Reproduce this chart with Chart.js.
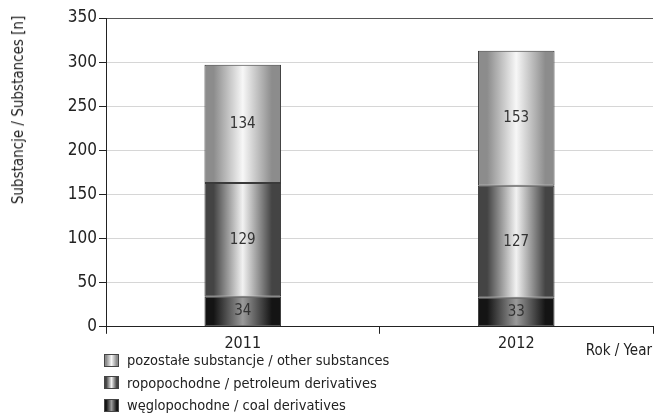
<!DOCTYPE html>
<html>
<head>
<meta charset="utf-8">
<script src="https://cdn.jsdelivr.net/npm/chart.js@4/dist/chart.umd.min.js"></script>
<style>
  html, body { margin: 0; padding: 0; background: #fff; }
  #wrap { position: relative; width: 654px; height: 413px; font-family: "Liberation Sans Narrow", "DejaVu Sans Condensed", sans-serif; color: #222; }
  #chart { position: absolute; left: 0; top: 0; }
  #ytitle { position: absolute; left: 18px; top: 110px; transform: translate(-50%, -50%) rotate(-90deg); white-space: nowrap; font-size: 15px; }
  #xtitle { position: absolute; right: 2px; top: 341px; font-size: 15px; }
  #legend { position: absolute; left: 104px; top: 349px; font-size: 14.5px; }
  #legend div { height: 22.5px; display: flex; align-items: center; }
  #legend span.box { width: 15px; height: 13px; margin-right: 8px; box-sizing: border-box; border: 1px solid #444; }
</style>
</head>
<body>
<div id="wrap">
  <canvas id="chart" width="654" height="413"></canvas>
  <div id="ytitle">Substancje / Substances [n]</div>
  <div id="xtitle">Rok / Year</div>
  <div id="legend"></div>
</div>
<script>
// lata i liczby substancji w poszczególnych grupach
const years = ["2011", "2012"];
const coal = [34, 33];
const petroleum = [129, 127];
const other = [134, 153];
const yTicks = [0, 50, 100, 150, 200, 250, 300, 350];

const FONT = "'Liberation Sans Narrow', 'DejaVu Sans Condensed', sans-serif";

// poziome gradienty: krawędź, środek
const shades = {
  coal: ["#141414", "#9a9a9a"],
  petroleum: ["#444444", "#f2f2f2"],
  other: ["#8c8c8c", "#f7f7f7"],
};
const BAR_PCT = 0.28;

function gradientFill(key) {
  return function (c) {
    const chart = c.chart;
    const x = chart.scales.x;
    if (!chart.chartArea || !x) return shades[key][0];
    const cx = x.getPixelForValue(c.dataIndex);
    const w = (x.width / years.length) * BAR_PCT;
    const g = chart.ctx.createLinearGradient(cx - w / 2, 0, cx + w / 2, 0);
    const s = shades[key];
    g.addColorStop(0, s[0]);
    g.addColorStop(0.12, s[0]);
    g.addColorStop(0.5, s[1]);
    g.addColorStop(0.88, s[0]);
    g.addColorStop(1, s[0]);
    return g;
  };
}

const valueLabels = {
  id: "valueLabels",
  afterDatasetsDraw(chart) {
    const ctx = chart.ctx;
    ctx.save();
    ctx.font = "15px " + FONT;
    ctx.fillStyle = "#333";
    ctx.textAlign = "center";
    ctx.textBaseline = "middle";
    chart.data.datasets.forEach((ds, i) => {
      chart.getDatasetMeta(i).data.forEach((bar, j) => {
        const p = bar.getProps(["x", "y", "base"], true);
        ctx.fillText(String(ds.data[j]), p.x, (p.y + p.base) / 2);
      });
    });
    ctx.restore();
  },
};

new Chart(document.getElementById("chart"), {
  type: "bar",
  data: {
    labels: years,
    datasets: [
      { label: "węglopochodne / coal derivatives", data: coal, backgroundColor: gradientFill("coal") },
      { label: "ropopochodne / petroleum derivatives", data: petroleum, backgroundColor: gradientFill("petroleum") },
      { label: "pozostałe substancje / other substances", data: other, backgroundColor: gradientFill("other") },
    ].map((d) => Object.assign(d, {
      borderColor: "#3a3a3a", borderWidth: 1, borderSkipped: false,
      barPercentage: BAR_PCT, categoryPercentage: 1,
    })),
  },
  options: {
    responsive: false,
    animation: false,
    layout: { padding: { left: 0, top: 18, right: 1, bottom: 60 } },
    plugins: { legend: { display: false }, tooltip: { enabled: false } },
    scales: {
      x: {
        stacked: true,
        offset: true,
        grid: { offset: true, drawOnChartArea: false, tickLength: 7, tickColor: "#222", lineWidth: 1 },
        border: { color: "#222" },
        ticks: { color: "#222", font: { family: FONT, size: 16 }, padding: 0 },
      },
      y: {
        stacked: true,
        min: 0,
        max: 350,
        afterBuildTicks: (s) => { s.ticks = yTicks.map((v) => ({ value: v })); },
        grid: {
          color: (c) => (c.tick && c.tick.value === 350 ? "#555" : "#d6d6d6"),
          tickColor: "#222",
          tickLength: 7,
        },
        border: { color: "#222" },
        ticks: { color: "#222", font: { family: FONT, size: 17 }, padding: 2 },
        afterFit: (s) => { s.width = 106; },
      },
    },
  },
  plugins: [valueLabels],
});

// legenda: od góry pozostałe, ropopochodne, węglopochodne
const legendRows = [
  ["pozostałe substancje / other substances", shades.other],
  ["ropopochodne / petroleum derivatives", shades.petroleum],
  ["węglopochodne / coal derivatives", shades.coal],
];
document.getElementById("legend").innerHTML = legendRows.map((r) =>
  '<div><span class="box" style="background:linear-gradient(to right,' + r[1][0] + ' 10%,' + r[1][1] + ' 50%,' + r[1][0] + ' 90%)"></span>' + r[0] + "</div>"
).join("");
</script>
</body>
</html>
